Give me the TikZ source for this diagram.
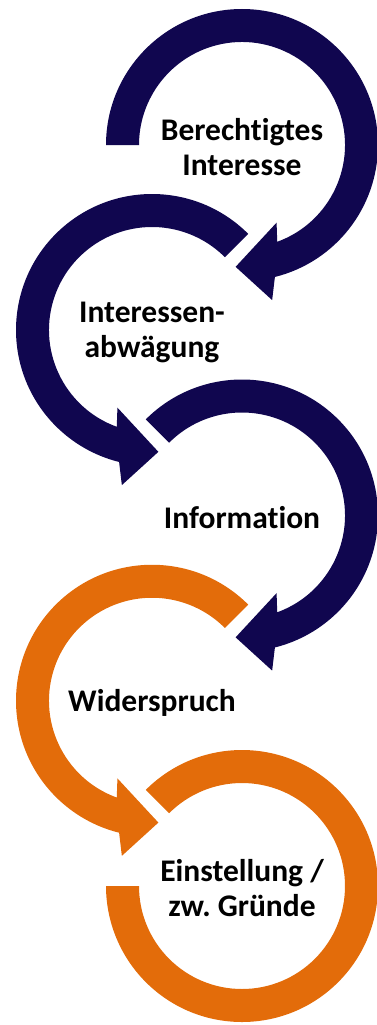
\documentclass[tikz,border=0pt]{standalone}
\usepackage{fontspec}
\setmainfont{Carlito}[Ligatures=NoCommon]
\usepackage{tikz}
\frenchspacing

\definecolor{navyblue}{HTML}{10064F}
\definecolor{burntorange}{HTML}{E36C0A}

\begin{document}
\begin{tikzpicture}[x=1pt, y=1pt,
    stagetext/.style={font=\bfseries\fontsize{31.5}{35}\selectfont, align=center, text=black}]
        \useasboundingbox (0,0) rectangle (377,-1025);

        % Define coordinates (centres of the five rings)
        \coordinate (berechtigt) at (242,-145);
        \coordinate (abwaegung) at (152,-330);
        \coordinate (information) at (242,-515.5);
        \coordinate (widerspruch) at (152,-700.75);
        \coordinate (einstellung) at (242,-886);

        % Right-hand arrows, running clockwise
        \fill[navyblue, shift={(berechtigt)}] (180:136) arc[start angle=180, end angle=-76, radius=136]
            -- (-79:158) -- (-93:122) -- (-66:85) -- (-70:103) arc[start angle=-70, end angle=180, radius=103] -- cycle;
        \fill[navyblue, shift={(information)}] (135:136) arc[start angle=135, end angle=-76, radius=136]
            -- (-79:158) -- (-93:122) -- (-66:85) -- (-70:103) arc[start angle=-70, end angle=135, radius=103] -- cycle;

        % Left-hand arrows, running counter-clockwise
        \fill[navyblue, shift={(abwaegung)}] (45:136) arc[start angle=45, end angle=256, radius=136]
            -- (259:158) -- (273:122) -- (246:85) -- (250:103) arc[start angle=250, end angle=45, radius=103] -- cycle;
        \fill[burntorange, shift={(widerspruch)}] (45:136) arc[start angle=45, end angle=256, radius=136]
            -- (259:158) -- (273:122) -- (246:85) -- (250:103) arc[start angle=250, end angle=45, radius=103] -- cycle;

        % Last ring, no head
        \fill[burntorange, shift={(einstellung)}] (135:136) arc[start angle=135, end angle=-180, radius=136]
            -- (-180:103) arc[start angle=-180, end angle=135, radius=103] -- cycle;

        % Labels
        \node[stagetext, yshift=-2pt] (t1) at (berechtigt) {Berechtigtes\\Interesse};
        \node[stagetext, yshift=-2pt] (t2) at (abwaegung) {Interessen-\\abwägung};
        \node[stagetext, yshift=-2pt] (t3) at (information) {Information};
        \node[stagetext, yshift=-2pt] (t4) at (widerspruch) {Widerspruch};
        \node[stagetext, yshift=-2pt] (t5) at (einstellung) {Einstellung /\\zw. Gründe};
      \end{tikzpicture}
\end{document}
